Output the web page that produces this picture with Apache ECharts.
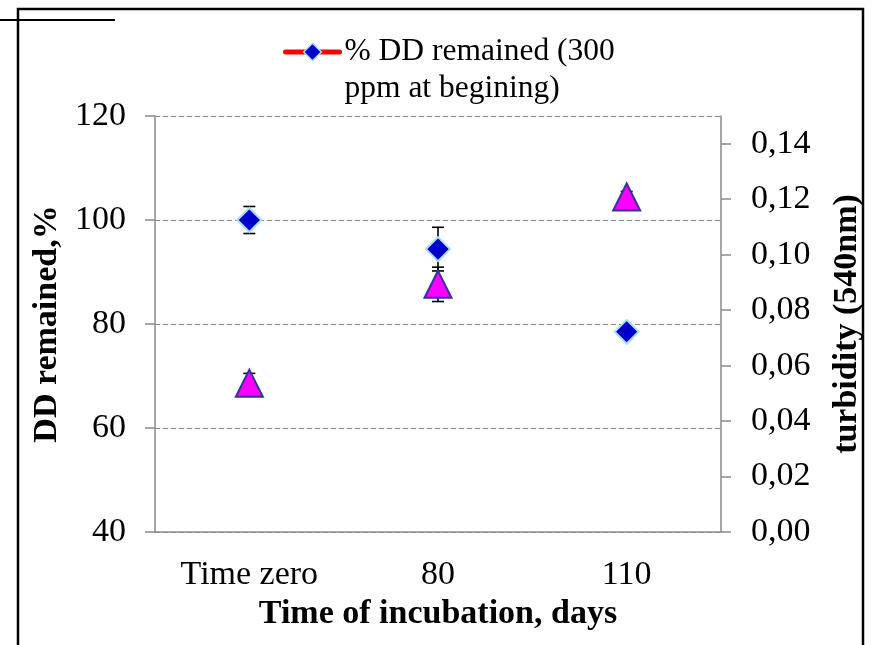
<!DOCTYPE html>
<html>
<head>
<meta charset="utf-8">
<script src="https://cdn.jsdelivr.net/npm/echarts@6/dist/echarts.min.js"></script>
<style>
html,body{margin:0;padding:0;background:#fff;}
#c{width:872px;height:645px;}
</style>
</head>
<body>
<div id="c"></div>
<script>
const categories = ['Time zero', '80', '110'];
const ddRemained = [100, 94.4, 78.5];
const ddError = [2.6, 4.2, 1.2];
const turbidity = [0.0536, 0.0893, 0.1208];
const turbError = [0.0036, 0.0062, 0.002];
const leftTicks = [40, 60, 80, 100, 120];
const rightTicks = [0, 0.02, 0.04, 0.06, 0.08, 0.10, 0.12, 0.14];
const legendName = '% DD remained (300\nppm at begining)';

const FONT = 'Liberation Serif';
const GREY = '#8a8a8a';

function errData(vals, errs) {
  return vals.map((v, i) => [i, v, errs[i]]);
}
function errRender(params, api) {
  const x = api.value(0), v = api.value(1), e = api.value(2);
  const top = api.coord([x, v + e]);
  const bot = api.coord([x, v - e]);
  const hw = 6;
  const st = {stroke: '#000', lineWidth: 1.6};
  return {
    type: 'group',
    children: [
      {type: 'line', shape: {x1: top[0], y1: top[1], x2: bot[0], y2: bot[1]}, style: st},
      {type: 'line', shape: {x1: top[0] - hw, y1: top[1], x2: top[0] + hw, y2: top[1]}, style: st},
      {type: 'line', shape: {x1: bot[0] - hw, y1: bot[1], x2: bot[0] + hw, y2: bot[1]}, style: st}
    ]
  };
}

const chart = echarts.init(document.getElementById('c'));
chart.setOption({
  backgroundColor: '#fff',
  animation: false,
  textStyle: {fontFamily: FONT, color: '#000'},
  graphic: [
    {type: 'rect', shape: {x: 18, y: 9, width: 845, height: 700}, style: {fill: 'none', stroke: '#000', lineWidth: 2.5}, z: 100},
    {type: 'line', shape: {x1: 0, y1: 20, x2: 115, y2: 20}, style: {stroke: '#000', lineWidth: 2}, z: 100}
  ],
  legend: {
    data: [legendName],
    left: 283,
    top: -3.5,
    padding: 0,
    itemWidth: 54,
    itemHeight: 22,
    formatter: n => '\n' + n,
    textStyle: {fontFamily: FONT, fontSize: 31.5, color: '#000', lineHeight: 37},
    lineStyle: {color: '#ff0000', width: 5, opacity: 1, cap: 'round'},
    itemStyle: {color: '#0000cc', borderColor: '#a8e0ea', borderWidth: 1.5}
  },
  grid: {left: 155, right: 149, top: 116, bottom: 113, containLabel: false},
  xAxis: {
    type: 'category',
    data: categories,
    boundaryGap: true,
    axisLine: {lineStyle: {color: GREY, width: 1.5}},
    axisTick: {show: false},
    axisLabel: {fontFamily: FONT, fontSize: 34, color: '#000', margin: 26},
    name: 'Time of incubation, days',
    nameLocation: 'middle',
    nameGap: 64,
    nameTextStyle: {fontFamily: FONT, fontSize: 34, fontWeight: 'bold', color: '#000'}
  },
  yAxis: [
    {
      type: 'value',
      min: 40, max: 120, interval: 20,
      position: 'left',
      axisLine: {show: true, lineStyle: {color: GREY, width: 1.5}},
      axisTick: {show: true, length: 10, lineStyle: {color: GREY, width: 1.5}},
      axisLabel: {fontFamily: FONT, fontSize: 34, color: '#000', margin: 29, customValues: leftTicks},
      splitLine: {show: true, lineStyle: {color: GREY, width: 1.2, type: [5, 3]}},
      name: 'DD remained,%',
      nameLocation: 'middle',
      nameGap: 89,
      nameRotate: 90,
      nameTextStyle: {fontFamily: FONT, fontSize: 34, fontWeight: 'bold', color: '#000'}
    },
    {
      type: 'value',
      min: 0, max: 0.15, interval: 0.02,
      position: 'right',
      axisLine: {show: true, lineStyle: {color: GREY, width: 1.5}},
      axisTick: {show: true, length: 10, lineStyle: {color: GREY, width: 1.5}, customValues: rightTicks},
      axisLabel: {
        fontFamily: FONT, fontSize: 34, color: '#000', margin: 30,
        customValues: rightTicks,
        formatter: v => v.toFixed(2).replace('.', ',')
      },
      splitLine: {show: false},
      name: 'turbidity (540nm)',
      nameLocation: 'middle',
      nameGap: 109,
      nameRotate: 90,
      nameTextStyle: {fontFamily: FONT, fontSize: 34, fontWeight: 'bold', color: '#000'}
    }
  ],
  series: [
    {
      type: 'custom',
      yAxisIndex: 0,
      data: errData(ddRemained, ddError),
      renderItem: errRender,
      z: 1,
      silent: true
    },
    {
      type: 'custom',
      yAxisIndex: 1,
      data: errData(turbidity, turbError),
      renderItem: errRender,
      z: 1,
      silent: true
    },
    {
      name: legendName,
      type: 'line',
      yAxisIndex: 0,
      data: ddRemained,
      symbol: 'diamond',
      symbolSize: 24,
      showSymbol: true,
      lineStyle: {width: 0, opacity: 0},
      itemStyle: {color: '#0000cc', borderColor: '#a8e0ea', borderWidth: 2, opacity: 1},
      z: 3
    },
    {
      name: 'turbidity',
      type: 'scatter',
      yAxisIndex: 1,
      data: turbidity,
      symbol: 'triangle',
      symbolSize: 27,
      itemStyle: {color: '#ff00ff', borderColor: '#333399', borderWidth: 2, opacity: 1},
      z: 3
    }
  ]
});
</script>
</body>
</html>
